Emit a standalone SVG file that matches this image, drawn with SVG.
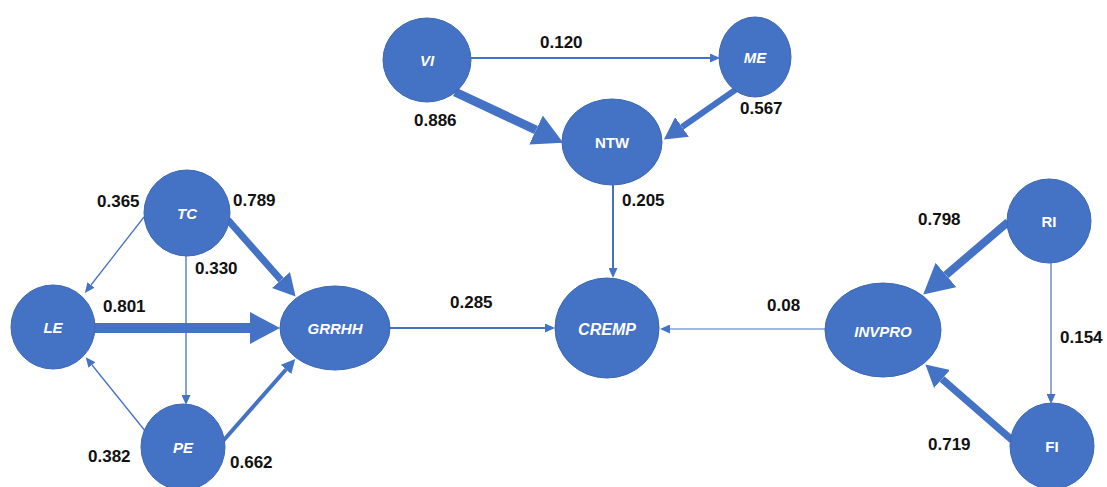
<svg xmlns="http://www.w3.org/2000/svg" width="1107" height="487" viewBox="0 0 1107 487">
<style>
.node{fill:#4472C4;stroke:#3C67B3;stroke-width:1}
.nt{fill:#fff;font-family:"Liberation Sans",Arial,sans-serif;text-anchor:middle;dominant-baseline:central}
.it{font-style:italic;font-size:15px;font-weight:600}
.bd{font-weight:bold;font-size:15px}
.lbl{fill:#111;font-family:"Liberation Sans",Arial,sans-serif;font-weight:bold;font-size:17px;dominant-baseline:central}
.e{stroke:#4472C4;fill:none}
</style>
<defs>
<marker id="aS" markerUnits="userSpaceOnUse" markerWidth="10" markerHeight="9" refX="0" refY="4.5" orient="auto"><path d="M0,0L10,4.5L0,9z" fill="#4472C4"/></marker>
<marker id="aS2" markerUnits="userSpaceOnUse" markerWidth="14" markerHeight="14" refX="0" refY="7" orient="auto"><path d="M0,0L14,7L0,14z" fill="#4472C4"/></marker>
<marker id="aM" markerUnits="userSpaceOnUse" markerWidth="22" markerHeight="24" refX="0" refY="12" orient="auto"><path d="M0,0L22,12L0,24z" fill="#4472C4"/></marker>
<marker id="aL" markerUnits="userSpaceOnUse" markerWidth="30" markerHeight="32" refX="0" refY="16" orient="auto"><path d="M0,0L30,16L0,32z" fill="#4472C4"/></marker>
</defs>
<g id="connectors">
<line class="e" x1="471" y1="58" x2="710" y2="58" stroke-width="2" marker-end="url(#aS)"/>
<line class="e" x1="455" y1="92" x2="536" y2="130" stroke-width="9" marker-end="url(#aL)"/>
<line class="e" x1="738" y1="88" x2="682" y2="127" stroke-width="6" marker-end="url(#aM)"/>
<line class="e" x1="613" y1="185" x2="613" y2="268" stroke-width="2" marker-end="url(#aS)"/>
<line class="e" x1="144" y1="217" x2="91" y2="285" stroke-width="1.3" marker-end="url(#aS)"/>
<line class="e" x1="228" y1="220" x2="281" y2="280" stroke-width="7" marker-end="url(#aM)"/>
<line class="e" x1="186" y1="256" x2="186" y2="395" stroke-width="1.3" marker-end="url(#aS)"/>
<line class="e" x1="95" y1="328" x2="250" y2="328" stroke-width="10" marker-end="url(#aL)"/>
<line class="e" x1="146" y1="432" x2="92" y2="365" stroke-width="1.3" marker-end="url(#aS)"/>
<line class="e" x1="223" y1="441" x2="286" y2="369.5" stroke-width="4" marker-end="url(#aS2)"/>
<line class="e" x1="390" y1="328" x2="545" y2="328" stroke-width="1.8" marker-end="url(#aS)"/>
<line class="e" x1="825" y1="329" x2="670" y2="329" stroke-width="1.2" marker-end="url(#aS)"/>
<line class="e" x1="1008" y1="222" x2="946" y2="275" stroke-width="8" marker-end="url(#aL)"/>
<line class="e" x1="1051" y1="263" x2="1051" y2="394" stroke-width="1.2" marker-end="url(#aS)"/>
<line class="e" x1="1012" y1="440" x2="942" y2="379" stroke-width="7" marker-end="url(#aM)"/>
</g>
<g id="VI"><ellipse class="node" cx="427" cy="60" rx="44" ry="42"/><text class="nt it" x="427" y="60">VI</text></g>
<g id="ME"><ellipse class="node" cx="755" cy="57" rx="36" ry="40"/><text class="nt it" x="755" y="57">ME</text></g>
<g id="NTW"><ellipse class="node" cx="612" cy="142" rx="50" ry="43"/><text class="nt bd" x="612" y="142">NTW</text></g>
<g id="TC"><ellipse class="node" cx="187" cy="213" rx="43" ry="43"/><text class="nt it" x="187" y="213">TC</text></g>
<g id="LE"><ellipse class="node" cx="53" cy="327" rx="42" ry="42"/><text class="nt it" x="53" y="327">LE</text></g>
<g id="PE"><ellipse class="node" cx="183" cy="447" rx="42" ry="43"/><text class="nt it" x="183" y="447">PE</text></g>
<g id="GRRHH"><ellipse class="node" cx="335" cy="328" rx="55" ry="42"/><text class="nt" x="335" y="328" style="font-style:italic;font-size:15px;font-weight:600">GRRHH</text></g>
<g id="CREMP"><ellipse class="node" cx="607" cy="328" rx="52" ry="50"/><text class="nt" x="607" y="329" style="font-style:italic;font-size:16px;font-weight:bold">CREMP</text></g>
<g id="INVPRO"><ellipse class="node" cx="883" cy="330" rx="58" ry="47"/><text class="nt" x="883" y="331" style="font-style:italic;font-size:15px;font-weight:bold">INVPRO</text></g>
<g id="RI"><ellipse class="node" cx="1049" cy="221" rx="42" ry="42"/><text class="nt bd" x="1049" y="221">RI</text></g>
<g id="FI"><ellipse class="node" cx="1052" cy="446" rx="42" ry="43"/><text class="nt bd" x="1052" y="446">FI</text></g>
<g id="labels">
<text class="lbl" x="540" y="42">0.120</text>
<text class="lbl" x="414" y="120">0.886</text>
<text class="lbl" x="740" y="108">0.567</text>
<text class="lbl" x="622" y="200">0.205</text>
<text class="lbl" x="97" y="201">0.365</text>
<text class="lbl" x="233" y="200">0.789</text>
<text class="lbl" x="195" y="268">0.330</text>
<text class="lbl" x="103" y="306">0.801</text>
<text class="lbl" x="88" y="456">0.382</text>
<text class="lbl" x="230" y="462">0.662</text>
<text class="lbl" x="450" y="302">0.285</text>
<text class="lbl" x="767" y="305">0.08</text>
<text class="lbl" x="918" y="219">0.798</text>
<text class="lbl" x="1060" y="337">0.154</text>
<text class="lbl" x="928" y="444">0.719</text>
</g>
</svg>
